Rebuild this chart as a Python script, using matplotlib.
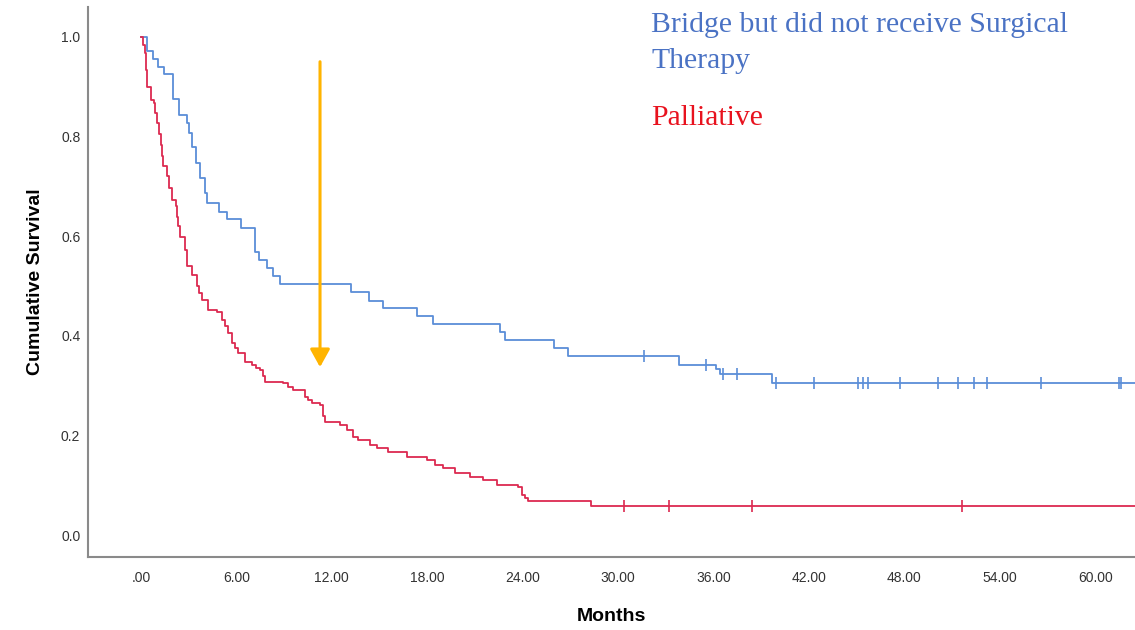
import numpy as np
import matplotlib
matplotlib.use("Agg")
import matplotlib.pyplot as plt
from matplotlib.patches import ArrowStyle

# Kaplan-Meier estimates (months, cumulative survival after each event)
bridge_times = [0, 0.36, 0.77, 1.09, 1.45, 1.99, 2.41, 2.87, 3.04, 3.19, 3.46, 3.71,
                4.03, 4.17, 4.92, 5.39, 6.29, 7.17, 7.42, 7.91, 8.28, 8.74, 13.19,
                14.36, 15.2, 17.34, 18.35, 22.58, 22.89, 25.97, 26.84, 33.8, 36.16,
                36.4, 39.7]
bridge_surv = [1.0, 0.972, 0.955, 0.94, 0.926, 0.875, 0.843, 0.827, 0.807, 0.779,
               0.746, 0.716, 0.686, 0.666, 0.649, 0.634, 0.616, 0.569, 0.552, 0.535,
               0.519, 0.503, 0.487, 0.470, 0.455, 0.44, 0.424, 0.408, 0.392, 0.375,
               0.36, 0.341, 0.333, 0.323, 0.305]
bridge_censored = [31.6, 35.5, 36.6, 37.5, 39.9, 42.3, 45.1, 45.4, 45.7, 47.7, 50.1,
                   51.4, 52.4, 53.2, 56.6, 61.5, 61.6]

palliative_times = [0, 0.14, 0.25, 0.35, 0.40, 0.61, 0.82, 0.91, 0.99, 1.11, 1.24,
                    1.32, 1.40, 1.62, 1.76, 1.93, 2.2, 2.25, 2.36, 2.45, 2.77, 2.87,
                    3.19, 3.5, 3.65, 3.82, 4.23, 4.76, 5.08, 5.28, 5.49, 5.7, 5.91,
                    6.12, 6.54, 6.96, 7.23, 7.48, 7.67, 7.8, 8.95, 9.25, 9.58, 10.31,
                    10.5, 10.74, 11.26, 11.47, 11.57, 12.52, 12.94, 13.35, 13.67,
                    14.4, 14.82, 15.55, 16.71, 17.97, 18.49, 19.01, 19.75, 20.69,
                    21.49, 22.37, 23.73, 23.94, 24.15, 24.36, 28.28]
palliative_surv = [1.0, 0.984, 0.967, 0.934, 0.90, 0.873, 0.867, 0.847, 0.827, 0.805,
                   0.783, 0.761, 0.74, 0.72, 0.697, 0.673, 0.66, 0.639, 0.62, 0.599,
                   0.572, 0.539, 0.522, 0.499, 0.486, 0.472, 0.452, 0.448, 0.432,
                   0.42, 0.405, 0.385, 0.375, 0.365, 0.348, 0.341, 0.335, 0.331,
                   0.319, 0.308, 0.305, 0.297, 0.291, 0.278, 0.271, 0.264, 0.261,
                   0.238, 0.227, 0.221, 0.211, 0.197, 0.191, 0.181, 0.174, 0.167,
                   0.157, 0.151, 0.141, 0.134, 0.124, 0.117, 0.110, 0.100, 0.097,
                   0.080, 0.074, 0.069, 0.058]
palliative_censored = [30.4, 33.2, 38.4, 51.6]

followup_end = 63
x_ticks = [0, 6, 12, 18, 24, 30, 36, 42, 48, 54, 60]
y_ticks = [0.0, 0.2, 0.4, 0.6, 0.8, 1.0]

blue = "#5b8ed8"
red = "#dc2a50"


def surv_at(times, surv, t):
    idx = np.searchsorted(times, t, side="right") - 1
    return np.asarray(surv)[idx]


fig = plt.figure(figsize=(11.35, 6.3), dpi=100)
ax = fig.add_axes([0.0775, 0.116, 0.9225, 0.873])

for times, surv, cens, col in [(bridge_times, bridge_surv, bridge_censored, blue),
                               (palliative_times, palliative_surv, palliative_censored, red)]:
    t = list(times) + [followup_end]
    s = list(surv) + [surv[-1]]
    ax.step(t, s, where="post", color=col, lw=1.3)
    ax.plot(cens, surv_at(times, surv, cens), ls="none", marker="|",
            markersize=8, mew=1.2, color=col)

# arrow marking the one-year point
ax.annotate("", xy=(11.26, 0.337), xytext=(11.26, 0.95),
            arrowprops=dict(arrowstyle=ArrowStyle("-|>", head_length=0.9, head_width=0.5),
                            mutation_scale=12, color="#ffb400", lw=2.2,
                            shrinkA=0, shrinkB=0))

serif = dict(fontsize=21.4, family="Liberation Serif", ha="left", va="baseline")
ax.text(32.1, 1.01, "Bridge but did not receive Surgical", color="#4a72c4", **serif)
ax.text(32.1, 0.938, "Therapy", color="#4a72c4", **serif)
ax.text(32.1, 0.823, "Palliative", color="#e8121e", **serif)

ax.set_xlim(-3.33, 62.5)
ax.set_ylim(-0.044, 1.06)
ax.set_xticks(x_ticks)
ax.set_xticklabels([f"{v:.2f}".lstrip("0") if v == 0 else f"{v:.2f}" for v in x_ticks])
ax.set_yticks(y_ticks)
ax.set_yticklabels([f"{v:.1f}" for v in y_ticks])
ax.tick_params(length=0, labelsize=10, colors="#333333")
ax.tick_params(axis="x", pad=10)
ax.tick_params(axis="y", pad=5.5)
for lbl in ax.get_xticklabels() + ax.get_yticklabels():
    lbl.set_family("Liberation Sans")

for side in ["top", "right"]:
    ax.spines[side].set_visible(False)
for side in ["left", "bottom"]:
    ax.spines[side].set_color("#8a8a8a")
    ax.spines[side].set_linewidth(1.5)

ax.set_xlabel("Months", fontsize=14, fontweight="bold", family="Liberation Sans",
              labelpad=17)
ax.set_ylabel("Cumulative Survival", fontsize=14, fontweight="bold",
              family="Liberation Sans", labelpad=12)

fig.savefig("out.png", dpi=100)
